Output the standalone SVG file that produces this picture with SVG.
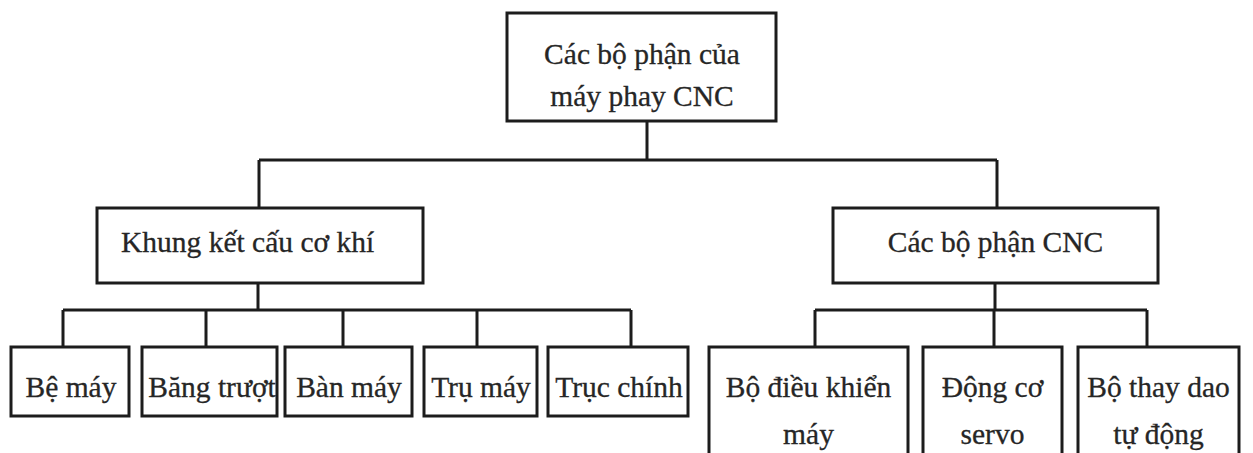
<svg xmlns="http://www.w3.org/2000/svg" width="1253" height="453" viewBox="0 0 1253 453">
<style>
.box{fill:#fff;stroke:#1c1c1c;stroke-width:3}
.lbl{font-family:"Liberation Serif","Times New Roman",serif;font-size:29.5px;fill:#262626;stroke:#262626;stroke-width:0.3;text-anchor:middle}
.conn{fill:none;stroke:#1c1c1c;stroke-width:3}
</style>
<rect width="1253" height="453" fill="#fff"/>
<g id="connectors">
<path class="conn" d="M647 121V160M259 160H997M259 160V208M997 160V208"/>
<path class="conn" d="M258 283V310M63 310H631M63 310V347M206 310V347M343 310V347M477 310V347M631 310V347"/>
<path class="conn" d="M995 283V310M815 310H1147M815 310V347M994 310V347M1147 310V347"/>
</g>
<g id="root"><rect class="box" x="507" y="13" width="269" height="108"/><text class="lbl" x="642" y="64">Các bộ phận của</text><text class="lbl" x="642" y="106">máy phay CNC</text></g>
<g id="khung"><rect class="box" x="97" y="208" width="326" height="75"/><text class="lbl" x="121" y="252" style="text-anchor:start">Khung kết cấu cơ khí</text></g>
<g id="cnc"><rect class="box" x="833" y="208" width="325" height="75"/><text class="lbl" x="995.5" y="252">Các bộ phận CNC</text></g>
<g id="be-may"><rect class="box" x="11" y="347" width="118" height="69"/><text class="lbl" x="71" y="397">Bệ máy</text></g>
<g id="bang-truot"><rect class="box" x="142" y="347" width="135" height="69"/><text class="lbl" x="212" y="397">Băng trượt</text></g>
<g id="ban-may"><rect class="box" x="285" y="347" width="127" height="69"/><text class="lbl" x="349" y="397">Bàn máy</text></g>
<g id="tru-may"><rect class="box" x="424" y="347" width="113" height="69"/><text class="lbl" x="481" y="397">Trụ máy</text></g>
<g id="truc-chinh"><rect class="box" x="548" y="347" width="140" height="69"/><text class="lbl" x="619" y="397">Trục chính</text></g>
<g id="bo-dieu-khien"><rect class="box" x="709" y="347" width="199" height="120"/><text class="lbl" x="808.5" y="397">Bộ điều khiển</text><text class="lbl" x="808.5" y="444">máy</text></g>
<g id="dong-co"><rect class="box" x="923" y="347" width="139" height="120"/><text class="lbl" x="992.5" y="397">Động cơ</text><text class="lbl" x="992.5" y="444">servo</text></g>
<g id="bo-thay-dao"><rect class="box" x="1078" y="347" width="161" height="120"/><text class="lbl" x="1158.5" y="397">Bộ thay dao</text><text class="lbl" x="1158.5" y="444">tự động</text></g>
</svg>
